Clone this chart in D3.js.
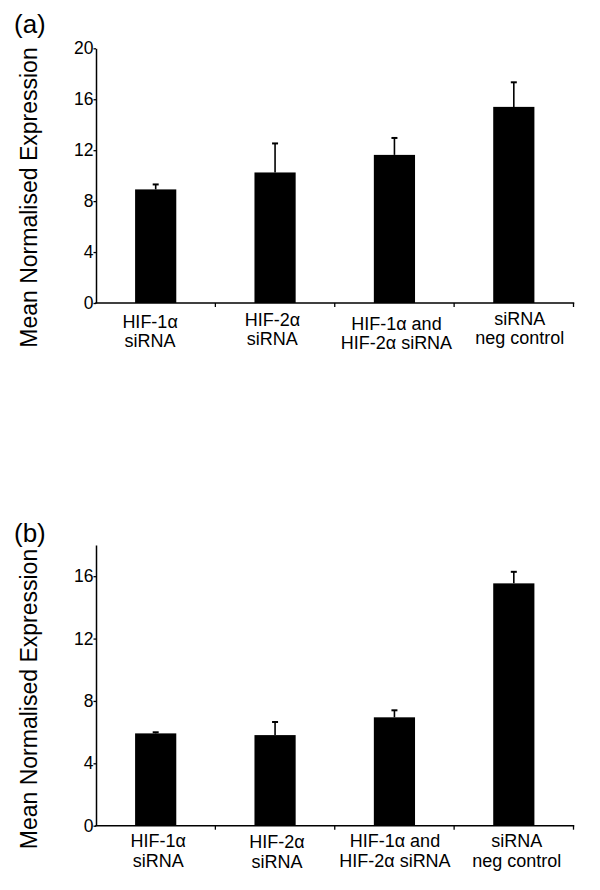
<!DOCTYPE html>
<html>
<head>
<meta charset="utf-8">
<script src="https://cdn.jsdelivr.net/npm/d3@7"></script>
<style>
  html, body { margin: 0; padding: 0; background: #fff; }
  svg { display: block; font-family: "Liberation Sans", Arial, sans-serif; }
</style>
</head>
<body>
<svg id="chart" width="600" height="890"></svg>
<script>
// ---- data ----
const categories = [
  ["HIF-1α", "siRNA"],
  ["HIF-2α", "siRNA"],
  ["HIF-1α and", "HIF-2α siRNA"],
  ["siRNA", "neg control"]
];
const meanA = [8.92, 10.25, 11.63, 15.40];
const errA  = [0.39, 2.28, 1.33, 1.93];
const meanB = [5.92, 5.81, 6.95, 15.54];
const errB  = [0.07, 0.84, 0.45, 0.74];
const ticksA = [0, 4, 8, 12, 16, 20];
const ticksB = [0, 4, 8, 12, 16];
const panelLabels = ["(a)", "(b)"];
const yTitle = "Mean Normalised Expression";

// ---- layout ----
const svg = d3.select("#chart");
const panels = [
  { label: panelLabels[0], mean: meanA, err: errA, ticks: ticksA, yMax: 20,
    top: 48.3, bottom: 303, labelY: 33, titleY: 197.5, catBase: 326.5,
    nudgeX: [-5.6, -2.7, 2, 6], nudgeY: [1.3, -1, 3.3, -2] },
  { label: panelLabels[1], mean: meanB, err: errB, ticks: ticksB, yMax: 18,
    top: 545, bottom: 825.7, labelY: 541.5, titleY: 699, catBase: 847,
    nudgeX: [2.5, 2, 0.5, 3], nudgeY: [0, 1, 0, 0] }
];
const left = 96, right = 573.5;
const FONT = "'Liberation Sans', Arial, sans-serif";

panels.forEach(p => {
  const g = svg.append("g");
  const x = d3.scaleBand().domain(d3.range(categories.length)).range([left, right]).padding(0);
  const y = d3.scaleLinear().domain([0, p.yMax]).range([p.bottom, p.top]);
  const bw = x.bandwidth() * 0.345;

  // bars
  g.selectAll("rect.bar").data(p.mean).join("rect")
    .attr("x", (d, i) => x(i) + x.bandwidth() / 2 - bw / 2)
    .attr("y", d => y(d))
    .attr("width", bw)
    .attr("height", d => y(0) - y(d))
    .attr("fill", "#000");

  // error bars (upper only)
  const eb = g.selectAll("g.err").data(p.mean).join("g");
  eb.append("line")
    .attr("x1", (d, i) => x(i) + x.bandwidth() / 2)
    .attr("x2", (d, i) => x(i) + x.bandwidth() / 2)
    .attr("y1", d => y(d))
    .attr("y2", (d, i) => y(d + p.err[i]))
    .attr("stroke", "#000").attr("stroke-width", 1.6);
  eb.append("line")
    .attr("x1", (d, i) => x(i) + x.bandwidth() / 2 - 3)
    .attr("x2", (d, i) => x(i) + x.bandwidth() / 2 + 3)
    .attr("y1", (d, i) => y(d + p.err[i]))
    .attr("y2", (d, i) => y(d + p.err[i]))
    .attr("stroke", "#000").attr("stroke-width", 2);

  // y axis
  const ya = g.append("g").attr("transform", `translate(${left},0)`)
    .attr("font-family", FONT).attr("font-size", 17.5)
    .call(d3.axisLeft(y).tickValues(p.ticks).tickSize(2.5).tickSizeOuter(0).tickPadding(0).tickFormat(d3.format("d")));
  ya.attr("font-family", FONT).attr("font-size", 17.5);
  ya.select(".domain").attr("stroke", "#000").attr("stroke-width", 1.5);
  ya.selectAll(".tick line").attr("stroke", "#000").attr("stroke-width", 1.3);
  ya.selectAll(".tick text").attr("fill", "#000");

  // x axis
  g.append("line").attr("x1", left - 0.75).attr("x2", right + 0.75)
    .attr("y1", y(0)).attr("y2", y(0))
    .attr("stroke", "#000").attr("stroke-width", 1.5);
  g.selectAll("line.xt").data(d3.range(1, categories.length + 1)).join("line")
    .attr("x1", i => i < categories.length ? x(i) : right)
    .attr("x2", i => i < categories.length ? x(i) : right)
    .attr("y1", y(0)).attr("y2", y(0) + 4)
    .attr("stroke", "#000").attr("stroke-width", 1.3);

  // category labels
  categories.forEach((lines, i) => {
    const t = g.append("text")
      .attr("text-anchor", "middle")
      .attr("font-family", FONT)
      .attr("font-size", 18).attr("fill", "#000");
    lines.forEach((ln, k) => {
      t.append("tspan")
        .attr("x", x(i) + x.bandwidth() / 2 + p.nudgeX[i])
        .attr("y", p.catBase + p.nudgeY[i] + k * 19.5)
        .text(ln);
    });
  });

  // y title
  g.append("text")
    .attr("transform", `translate(37,${p.titleY}) rotate(-90)`)
    .attr("text-anchor", "middle")
    .attr("font-family", FONT)
    .attr("font-size", 23).attr("fill", "#000")
    .text(yTitle);

  // panel label
  g.append("text")
    .attr("x", 14).attr("y", p.labelY)
    .attr("font-family", FONT)
    .attr("font-size", 26).attr("fill", "#000")
    .text(p.label);
});
</script>
</body>
</html>
